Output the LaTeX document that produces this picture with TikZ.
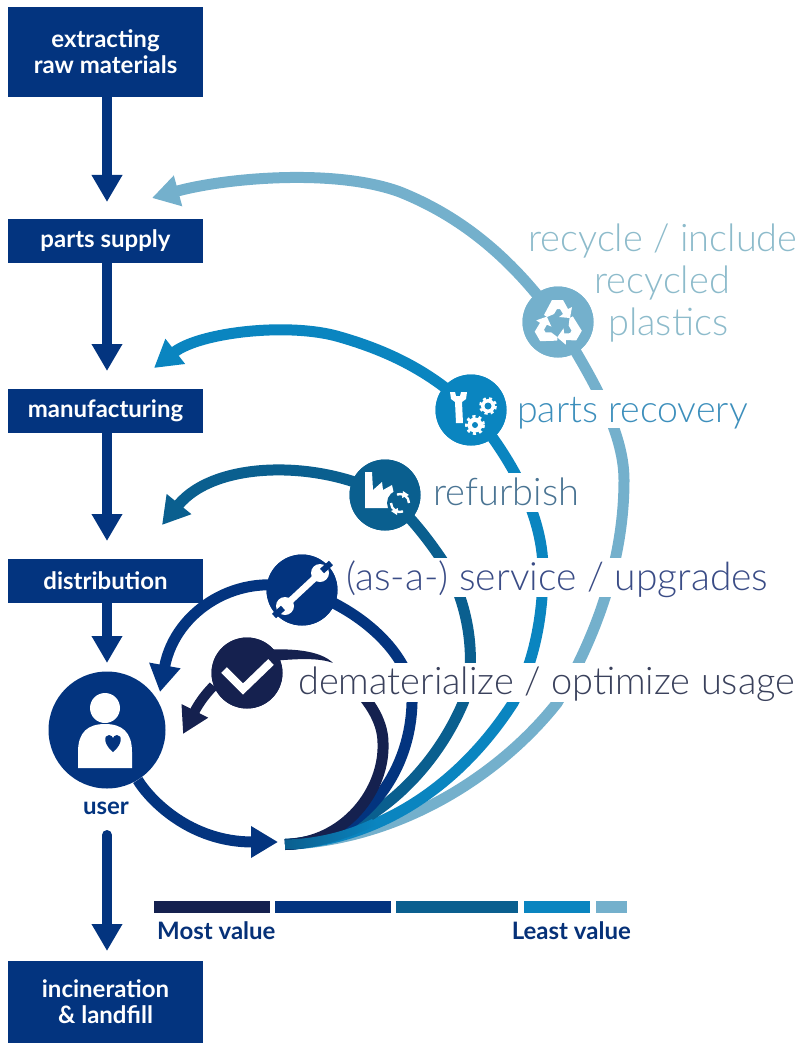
\documentclass[tikz,border=0pt]{standalone}
\usepackage{fontspec}
\usetikzlibrary{arrows.meta,calc}
\setmainfont{Lato}
\newfontfamily\lightf{Lato Light}
\definecolor{cdark}{HTML}{15214F}
\definecolor{cnavy}{HTML}{03347F}
\definecolor{cteal}{HTML}{0A5F8F}
\definecolor{cblue}{HTML}{0A85C0}
\definecolor{clight}{HTML}{74B0CC}
\definecolor{tlight}{HTML}{8DBBCB}
\definecolor{tblue}{HTML}{3D8FBC}
\definecolor{tteal}{HTML}{4A7493}
\definecolor{tnavy}{HTML}{3A4C86}
\definecolor{tdark}{HTML}{3A415C}
\tikzset{
  x=1pt,y=-1pt,
  flowbox/.style={fill=cnavy,inner sep=0pt,minimum width=195pt,text=white,align=center,font=\fontsize{24}{26}\selectfont\bfseries},
  flowline/.style={draw=cnavy,line width=10pt,-{Triangle[width=29pt,length=27pt]}},
  arcline/.style={line width=11pt},
  tip/.style={-{Triangle[width=30pt,length=27pt]}},
  band/.style={fill=white,draw=none},
  badge/.style={circle,minimum size=71pt,inner sep=0pt},
  lab/.style={anchor=base west,inner sep=0pt,font=\lightf\fontsize{38}{38}\selectfont},
  small/.style={inner sep=0pt,text=cnavy,font=\fontsize{24}{24}\selectfont\bfseries},
  ico/.style={fill=white,draw=none}
}
\begin{document}
\begin{tikzpicture}
\useasboundingbox (0,0) rectangle (805,1043);
% boxes
\node[flowbox,minimum height=90pt] (raw) at (105.5,52) {extracting\\raw materials};
\node[flowbox,minimum height=44pt] (parts) at (105.5,241) {parts supply};
\node[flowbox,minimum height=44pt] (manu) at (105.5,411) {manufacturing};
\node[flowbox,minimum height=44pt] (dist) at (105.5,581) {distribution};
\node[flowbox,minimum height=82pt] (inc) at (105.5,1002) {incineration\\\&~landfill};
% coordinates
\coordinate (o) at (285,844.5);
\coordinate (tl) at (152,198);
\coordinate (tb) at (154,368);
\coordinate (tt) at (162,525);
\coordinate (ts) at (160,692);
\coordinate (td) at (183,734);
\coordinate (tu) at (278,842);
\node[badge,fill=clight] (nl) at (558,322) {};
\node[badge,fill=cblue] (nb) at (471,410) {};
\node[badge,fill=cteal] (nt) at (385,495) {};
\node[badge,fill=cnavy] (ns) at (302,590) {};
\node[badge,fill=cdark] (nd) at (247,673) {};
\node[circle,fill=cnavy,minimum size=117pt,inner sep=0pt] (user) at (107,730) {};
\node[small] (userlab) at (106,808) {user};
% flow arrows
\draw[flowline] (raw.south -| 107,0) -- (107,202);
\draw[flowline] (parts.south -| 107,0) -- (107,371);
\draw[flowline] (manu.south -| 107,0) -- (107,541);
\draw[flowline] (dist.south -| 107,0) -- (107,663);
\draw[flowline,line cap=round] (107,835) -- (107,951);
% big arcs
\draw[arcline,clight,tip] (o) .. controls (400,840) and (500,775) .. (557,703)
  .. controls (600,630) and (624,555) .. (624,480)
  .. controls (624,430) and (590,375) .. (nl.center)
  .. controls (515,262) and (465,218) .. (400,192)
  .. controls (335,168) and (225,178) .. (tl);
\draw[arcline,cblue,tip] (o) .. controls (380,840) and (460,785) .. (513,703)
  .. controls (535,660) and (543,615) .. (543,570)
  .. controls (543,510) and (505,450) .. (nb.center)
  .. controls (430,370) and (385,350) .. (340,337)
  .. controls (290,322) and (200,332) .. (tb);
\draw[arcline,cteal,tip] (o) .. controls (360,840) and (430,780) .. (463,703)
  .. controls (478,665) and (470,600) .. (440,557)
  .. controls (425,535) and (405,510) .. (nt.center)
  .. controls (320,460) and (215,460) .. (tt);
\draw[arcline,cnavy,tip] (o) .. controls (355,843) and (410,780) .. (412,703)
  .. controls (415,660) and (365,610) .. (ns.center)
  .. controls (240,570) and (175,610) .. (ts);
\draw[arcline,cdark] (o) .. controls (345,843) and (385,790) .. (383,743)
  .. controls (383,720) and (368,698) .. (345,677);
\shade[left color=cteal,right color=cblue] (285,839.5) .. controls (315,839) and (345,832) .. (372,819) -- (377,825) .. controls (345,840) and (315,849.5) .. (285,849.5) -- cycle;
\fill[cdark] (262,650) .. controls (290,648) and (320,650) .. (333,663) .. controls (320,658) and (300,658) .. (262,662) -- cycle;
\draw[line width=10pt,cdark,-{Triangle[width=28pt,length=26pt]}] (nd) .. controls (215,685) and (203,695) .. (td);
\draw[line width=11pt,cnavy,tip] (user) .. controls (150,800) and (190,842) .. (tu);
% white bands behind labels
\fill[band] (515,390) rectangle (750,428);
\fill[band] (430,473) rectangle (580,512);
\fill[band] (342,558) rectangle (772,597);
\fill[band] (296,663) rectangle (798,702);
% badges redrawn on top
\node[badge,fill=clight] at (nl) {};
\node[badge,fill=cblue] at (nb) {};
\node[badge,fill=cteal] at (nt) {};
\node[badge,fill=cnavy] at (ns) {};
\node[badge,fill=cdark] at (nd) {};
% labels
\node[lab,text=tlight] (l1) at (528,251) {recycle / include};
\node[lab,text=tlight] (l2) at (594,293) {recycled};
\node[lab,text=tlight] (l3) at (608,335) {plastics};
\node[lab,text=tblue,font=\lightf\fontsize{37.5}{38}\selectfont] (l4) at (517,422) {parts recovery};
\node[lab,text=tteal] (l5) at (433,505) {refurbish};
\node[lab,text=tnavy,font=\lightf\fontsize{39}{38}\selectfont] (l6) at (346,590) {(as-a-) service / upgrades};
\node[lab,text=tdark] (l7) at (298,694) {dematerialize / optimize usage};
% legend
\fill[cdark] (154,901) rectangle (270,913);
\fill[cnavy] (275,901) rectangle (391,913);
\fill[cteal] (396,901) rectangle (518,913);
\fill[cblue] (524,901) rectangle (590,913);
\fill[clight] (596,901) rectangle (627,913);
\node[small,anchor=base west,text=cnavy!85!cdark] (most) at (157,939) {Most value};
\node[small,anchor=base east,text=cnavy!85!cdark] (least) at (631,939) {Least value};
% icon: user
\fill[ico] (105,708) circle (15);
\fill[ico] (78,768) -- (78,752) .. controls (78,732) and (88,724) .. (105,724) .. controls (122,724) and (132,732) .. (132,752) -- (132,768) -- cycle;
\fill[cnavy] (113,752) .. controls (104,745) and (103,735) .. (109,735) .. controls (111,735) and (113,737) .. (113,738) .. controls (113,737) and (115,735) .. (117,735) .. controls (123,735) and (122,745) .. (113,752) -- cycle;
% icon: check
\draw[white,line width=8pt] (224,670) -- (243,689) -- (271,662);
% icon: wrench
\draw[white,line width=6.5pt] (288,603) -- (317,576);
\fill[ico] (320,573) circle (9);
\fill[ico] (285,606) circle (9);
\draw[cnavy,line width=6pt] (322,571) -- (331,563);
\draw[cnavy,line width=6pt] (283,608) -- (274,616);
% icon: recycle
\foreach \a in {0,120,240}{
 \begin{scope}[shift={(558,324)},rotate=\a]
  \fill[ico] (-4,-10) -- (-11,-7) -- (-14,-9) -- (-6,-24) -- (5,-24) -- (10,-15) -- (14,-17) -- (12,-6) -- (1,-7) -- (5,-10) -- (2,-15) -- (-1,-15) -- cycle;
 \end{scope}}
% icon: parts
\fill[ico] (450,392) -- (455,392) -- (456,396) -- (460,396) -- (461,392) -- (467,392) -- (466,399) -- (462,402) -- (463,423) -- (456,423) -- (455,402) -- (451,399) -- cycle;
\draw[white,line width=2.8pt,dash pattern=on 3pt off 3pt] (488,406) circle (7.5);
\fill[ico] (488,406) circle (7);
\fill[cblue] (488,406) circle (3.5);
\draw[white,line width=3pt,dash pattern=on 3pt off 3.2pt] (475,425) circle (8.5);
\fill[ico] (475,425) circle (7.5);
\fill[cblue] (475,425) circle (3);
% icon: factory
\fill[ico] (365,472) -- (372,472) -- (373,490) -- (382,482) -- (383,490) -- (392,485) -- (394,494) -- (390,508) -- (365,508) -- cycle;
\fill[cteal] (400,503) circle (13);
\draw[white,line width=2.4pt] (391,503) arc (180:70:9);
\draw[white,line width=2.4pt] (409,503) arc (0:-110:9);
\fill[ico] (403,491) -- (409,495) -- (402,498) -- cycle;
\fill[ico] (397,515) -- (391,511) -- (398,508) -- cycle;
\end{tikzpicture}
\end{document}
